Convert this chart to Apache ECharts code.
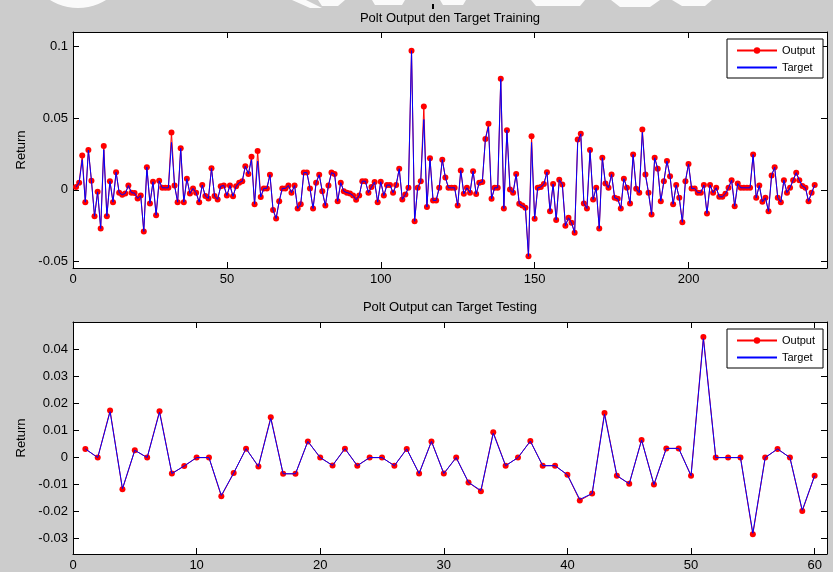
<!DOCTYPE html>
<html>
<head>
<meta charset="utf-8">
<script src="https://cdn.jsdelivr.net/npm/echarts@6/dist/echarts.min.js"></script>
<style>
  html, body { margin: 0; padding: 0; background: #cccccc; }
  #chart { width: 833px; height: 572px; }
</style>
</head>
<body>
<div id="chart"></div>
<script>
// Training period: network output and actual return, observations 1..241
const trainOutput = [
  0.002, 0.005, 0.024, -0.0086, 0.0277, 0.0063, -0.0184, -0.0014, -0.027, 0.0305,
  -0.0184, 0.006, -0.0086, 0.0123, -0.002, -0.0035, -0.0025, 0.003, -0.002, -0.0023,
  -0.006, -0.004, -0.029, 0.0158, -0.0095, 0.0056, -0.0177, 0.0063, 0.0014, 0.0014,
  0.0014, 0.040, 0.003, -0.0086, 0.029, -0.0086, 0.0077, -0.0026, 0.001, -0.002,
  -0.0086, 0.0033, -0.0044, -0.006, 0.015, -0.0044, -0.0067, 0.0025, 0.003, -0.004,
  0.003, -0.0045, 0.0025, 0.005, 0.006, 0.0165, 0.011, 0.023, -0.010, 0.027,
  -0.005, 0.001, 0.001, 0.0105, -0.014, -0.020, -0.008, 0.001, 0.001, 0.003,
  -0.002, 0.003, -0.013, -0.010, 0.012, 0.012, 0.001, -0.013, 0.005, 0.0105,
  -0.001, -0.011, 0.003, 0.012, 0.011, -0.008, 0.005, -0.001, -0.002, -0.0025,
  -0.004, -0.007, -0.004, 0.006, 0.006, -0.002, 0.002, 0.0055, -0.0086, 0.0056,
  -0.004, 0.0033, 0.0033, -0.002, 0.0033, 0.0147, -0.0067, -0.0033, 0.0014, 0.097,
  -0.0219, 0.0014, 0.006, 0.058, -0.012, 0.022, -0.0074, -0.0074, 0.0014, 0.021,
  0.0086, 0.0014, 0.0014, 0.0014, -0.011, 0.0135, -0.0028, 0.0014, -0.002, 0.013,
  -0.003, 0.005, 0.0055, 0.0355, 0.046, -0.0063, 0.0014, 0.0014, 0.0774, -0.013,
  0.0416, 0.0002, -0.002, 0.011, -0.0098, -0.011, -0.0125, -0.0463, 0.0374, -0.0202,
  0.0014, 0.002, 0.004, 0.0123, -0.015, 0.004, -0.021, 0.007, 0.0037, -0.025,
  -0.0195, -0.023, -0.030, 0.035, 0.039, -0.0095, -0.013, 0.0277, -0.0067, 0.0014,
  -0.027, 0.0223, 0.0044, 0.0014, 0.0107, -0.0056, -0.0063, -0.013, 0.0077, 0.0014,
  -0.0095, 0.0246, 0.0007, -0.002, 0.042, 0.0107, -0.002, -0.0172, 0.0223, 0.0147,
  -0.0079, 0.006, 0.020, 0.0095, -0.010, 0.0033, -0.0056, -0.0226, 0.006, 0.018,
  0.001, 0.001, -0.002, -0.002, 0.0033, -0.0165, 0.0033, -0.002, 0.0014, -0.0049,
  -0.0049, -0.0028, 0.0014, 0.0067, -0.0114, 0.0044, 0.0014, 0.0014, 0.0014, 0.0014,
  0.0246, -0.0056, 0.003, -0.0084, -0.0056, -0.015, 0.010, 0.0158, -0.0056, -0.0086,
  0.0067, -0.002, 0.0014, 0.0067, 0.0119, 0.0067, 0.0026, 0.0014, -0.008, -0.002,
  0.0033
];
const trainTarget = [
  0.002, 0.005, 0.021, -0.0086, 0.0277, 0.0063, -0.0184, -0.0014, -0.027, 0.028,
  -0.0184, 0.006, -0.0086, 0.0123, -0.002, -0.0035, -0.0025, 0.003, -0.002, -0.0023,
  -0.006, -0.004, -0.029, 0.0158, -0.0095, 0.0056, -0.0177, 0.0063, 0.0014, 0.0014,
  0.0014, 0.033, 0.003, -0.0086, 0.029, -0.0086, 0.0077, -0.0026, 0.001, -0.002,
  -0.0086, 0.0033, -0.0044, -0.006, 0.015, -0.0044, -0.0067, 0.0025, 0.003, -0.004,
  0.003, -0.0045, 0.0025, 0.005, 0.006, 0.0165, 0.011, 0.021, -0.010, 0.020,
  -0.005, 0.001, 0.001, 0.0105, -0.014, -0.020, -0.008, 0.001, 0.001, 0.003,
  -0.002, 0.003, -0.013, -0.010, 0.012, 0.012, 0.001, -0.013, 0.005, 0.0105,
  -0.001, -0.011, 0.003, 0.012, 0.011, -0.008, 0.005, -0.001, -0.002, -0.0025,
  -0.004, -0.007, -0.004, 0.006, 0.006, -0.002, 0.002, 0.0055, -0.0086, 0.0056,
  -0.004, 0.0033, 0.0033, -0.002, 0.0033, 0.0147, -0.0067, -0.0033, 0.0014, 0.097,
  -0.0219, 0.0014, 0.006, 0.049, -0.012, 0.022, -0.0074, -0.0074, 0.0014, 0.021,
  0.0086, 0.0014, 0.0014, 0.0014, -0.011, 0.0135, -0.0028, 0.0014, -0.002, 0.013,
  -0.003, 0.005, 0.0055, 0.0355, 0.044, -0.0063, 0.0014, 0.0014, 0.0774, -0.013,
  0.0416, 0.0002, -0.002, 0.011, -0.0098, -0.011, -0.0125, -0.0463, 0.033, -0.0202,
  0.0014, 0.002, 0.004, 0.0123, -0.015, 0.004, -0.021, 0.007, 0.0037, -0.025,
  -0.0195, -0.023, -0.030, 0.033, 0.039, -0.0095, -0.013, 0.0277, -0.0067, 0.0014,
  -0.027, 0.0223, 0.0044, 0.0014, 0.0107, -0.0056, -0.0063, -0.013, 0.0077, 0.0014,
  -0.0095, 0.0246, 0.0007, -0.002, 0.040, 0.0107, -0.002, -0.0172, 0.0223, 0.0147,
  -0.0079, 0.006, 0.020, 0.0095, -0.010, 0.0033, -0.0056, -0.0226, 0.006, 0.018,
  0.001, 0.001, -0.002, -0.002, 0.0033, -0.0165, 0.0033, -0.002, 0.0014, -0.0049,
  -0.0049, -0.0028, 0.0014, 0.0067, -0.0114, 0.0044, 0.0014, 0.0014, 0.0014, 0.0014,
  0.0246, -0.0056, 0.003, -0.0084, -0.0056, -0.015, 0.010, 0.0158, -0.0056, -0.0086,
  0.0067, -0.002, 0.0014, 0.0067, 0.0119, 0.0067, 0.0026, 0.0014, -0.008, -0.002,
  0.0033
];

// Testing period: observations 1..60
const testOutput = [
  0.0032, 0.0, 0.0174, -0.0117, 0.0027, 0.0, 0.0172, -0.0059, -0.0031, 0.0,
  0.0, -0.0143, -0.0057, 0.0033, -0.0033, 0.0149, -0.006, -0.006, 0.006, 0.0,
  -0.0029, 0.0033, -0.003, 0.0, 0.0, -0.003, 0.0032, -0.0059, 0.006, -0.0059,
  0.0, -0.0092, -0.0125, 0.0094, -0.003, 0.0, 0.0061, -0.003, -0.003, -0.0064,
  -0.0159, -0.0133, 0.0165, -0.0067, -0.0097, 0.0065, -0.010, 0.0034, 0.0034, -0.0067,
  0.0446, 0.0, 0.0, 0.0, -0.0284, 0.0, 0.0032, 0.0, -0.0198, -0.0067
];
const testTarget = [
  0.0032, 0.0, 0.0170, -0.0115, 0.0027, 0.0, 0.0168, -0.0059, -0.0031, 0.0,
  0.0, -0.0140, -0.0057, 0.0033, -0.0033, 0.0145, -0.006, -0.006, 0.006, 0.0,
  -0.0029, 0.0033, -0.003, 0.0, 0.0, -0.003, 0.0032, -0.0059, 0.006, -0.0059,
  0.0, -0.0092, -0.0122, 0.0090, -0.003, 0.0, 0.0061, -0.003, -0.003, -0.0064,
  -0.0155, -0.0133, 0.0160, -0.0067, -0.0097, 0.0065, -0.010, 0.0034, 0.0034, -0.0067,
  0.0440, 0.0, 0.0, 0.0, -0.0280, 0.0, 0.0032, 0.0, -0.0195, -0.0067
];

// Axis ranges and tick positions
const trainXTicks = [0, 50, 100, 150, 200];
const trainYTicks = [-0.05, 0, 0.05, 0.1];
const testXTicks = [0, 10, 20, 30, 40, 50, 60];
const testYTicks = [-0.03, -0.02, -0.01, 0, 0.01, 0.02, 0.03, 0.04];

const titles = ['Polt Output den Target Training', 'Polt Output can Target Testing'];
const seriesNames = ['Output', 'Target'];
const yName = 'Return';

const FONT = "'Liberation Sans', Arial, 'DejaVu Sans', sans-serif";
const RED = '#ff0000';
const BLUE = '#0000ff';

const toPairs = arr => arr.map((v, i) => [i + 1, v]);

function fmtY(v) {
  return String(+v.toFixed(4));
}

function xAxisFor(gridIndex, min, max, ticks, pos) {
  const main = pos === 'bottom';
  return {
    type: 'value', gridIndex, min, max, position: pos,
    axisLine: { show: true, onZero: false, lineStyle: { color: '#000', width: 1 } },
    axisTick: { show: true, inside: true, length: 6, customValues: ticks, lineStyle: { color: '#000' } },
    axisLabel: { show: main, customValues: ticks, color: '#000', fontSize: 13, fontFamily: FONT, margin: 5 },
    splitLine: { show: false }
  };
}

function yAxisFor(gridIndex, min, max, ticks, pos) {
  const main = pos === 'left';
  const ax = {
    type: 'value', gridIndex, min, max, position: pos,
    axisLine: { show: true, onZero: false, lineStyle: { color: '#000', width: 1 } },
    axisTick: { show: true, inside: true, length: 6, customValues: ticks, lineStyle: { color: '#000' } },
    axisLabel: { show: main, customValues: ticks, color: '#000', fontSize: 13, fontFamily: FONT, margin: 5, formatter: fmtY },
    splitLine: { show: false }
  };
  if (main) {
    ax.name = yName;
    ax.nameLocation = 'middle';
    ax.nameGap = 45;
    ax.nameTextStyle = { color: '#000', fontSize: 13, fontFamily: FONT };
  }
  return ax;
}

// Legend: "Output" shows line with dot, "Target" shows a plain blue line
function legendFor(top) {
  return {
    left: 727, top, orient: 'vertical',
    data: [
      { name: seriesNames[0] },
      {
        name: seriesNames[1],
        icon: 'path://M0,0 L40,0 L40,2 L0,2 Z',
        itemStyle: { color: BLUE, borderColor: BLUE, borderWidth: 0, opacity: 1 }
      }
    ],
    itemWidth: 40, itemHeight: 8, itemGap: 6,
    padding: [6, 8, 5, 9],
    backgroundColor: '#fff', borderColor: '#000', borderWidth: 1, borderRadius: 0,
    textStyle: { color: '#000', fontSize: 11, fontFamily: FONT },
    selectedMode: false
  };
}

function outputSeries(xi, yi, data) {
  return {
    name: seriesNames[0], type: 'line', xAxisIndex: xi, yAxisIndex: yi,
    data: toPairs(data), symbol: 'circle', symbolSize: 6, showSymbol: true,
    itemStyle: { color: RED }, lineStyle: { color: RED, width: 1 },
    z: 2, animation: false, silent: true
  };
}
function targetSeries(xi, yi, data) {
  return {
    name: seriesNames[1], type: 'line', xAxisIndex: xi, yAxisIndex: yi,
    data: toPairs(data), symbol: 'none', showSymbol: false,
    itemStyle: { color: BLUE }, lineStyle: { color: BLUE, width: 1 },
    z: 3, animation: false, silent: true
  };
}

// Faint white letterform fragments along the top edge of the figure
const wm = { fill: 'rgba(255,255,255,0.9)' };
const topMarks = [
  { type: 'ring', shape: { cx: 78, cy: -45, r: 53, r0: 43 }, style: wm, silent: true },
  { type: 'polygon', shape: { points: [[292, 0], [306, 0], [322, 8], [310, 8]] }, style: wm, silent: true },
  { type: 'polygon', shape: { points: [[318, 0], [345, 0], [338, 6], [322, 6]] }, style: wm, silent: true },
  { type: 'polygon', shape: { points: [[372, 0], [405, 0], [402, 5], [375, 5]] }, style: wm, silent: true },
  { type: 'polygon', shape: { points: [[440, 0], [466, 0], [463, 5], [443, 5]] }, style: wm, silent: true },
  { type: 'polygon', shape: { points: [[531, 0], [585, 0], [580, 6], [536, 6]] }, style: wm, silent: true },
  { type: 'polygon', shape: { points: [[611, 0], [660, 0], [650, 7], [620, 7]] }, style: wm, silent: true },
  { type: 'polygon', shape: { points: [[672, 0], [712, 0], [705, 6], [682, 6]] }, style: wm, silent: true },
  { type: 'rect', shape: { x: 432, y: 4, width: 2, height: 5 }, style: { fill: '#000' }, silent: true }
];

const chart = echarts.init(document.getElementById('chart'), null, { renderer: 'canvas' });
chart.setOption({
  backgroundColor: '#cccccc',
  animation: false,
  textStyle: { fontFamily: FONT },
  grid: [
    { left: 73, top: 32, width: 754, height: 236, show: true, backgroundColor: '#fff', borderWidth: 0 },
    { left: 73, top: 322, width: 754, height: 235, show: true, backgroundColor: '#fff', borderWidth: 0 }
  ],
  xAxis: [
    xAxisFor(0, 0, 245, trainXTicks, 'bottom'),
    xAxisFor(0, 0, 245, trainXTicks, 'top'),
    xAxisFor(1, 0, 61, testXTicks, 'bottom'),
    xAxisFor(1, 0, 61, testXTicks, 'top')
  ],
  yAxis: [
    yAxisFor(0, -0.0545, 0.110, trainYTicks, 'left'),
    yAxisFor(0, -0.0545, 0.110, trainYTicks, 'right'),
    yAxisFor(1, -0.0357, 0.0502, testYTicks, 'left'),
    yAxisFor(1, -0.0357, 0.0502, testYTicks, 'right')
  ],
  legend: [legendFor(39), legendFor(329)],
  graphic: topMarks.concat([
    { type: 'text', x: 450, y: 18, style: { text: titles[0], fill: '#000', font: '13px ' + FONT, textAlign: 'center', textVerticalAlign: 'middle' } },
    { type: 'text', x: 450, y: 307, style: { text: titles[1], fill: '#000', font: '13px ' + FONT, textAlign: 'center', textVerticalAlign: 'middle' } }
  ]),
  series: [
    outputSeries(0, 0, trainOutput),
    targetSeries(0, 0, trainTarget),
    outputSeries(2, 2, testOutput),
    targetSeries(2, 2, testTarget)
  ]
});
</script>
</body>
</html>
